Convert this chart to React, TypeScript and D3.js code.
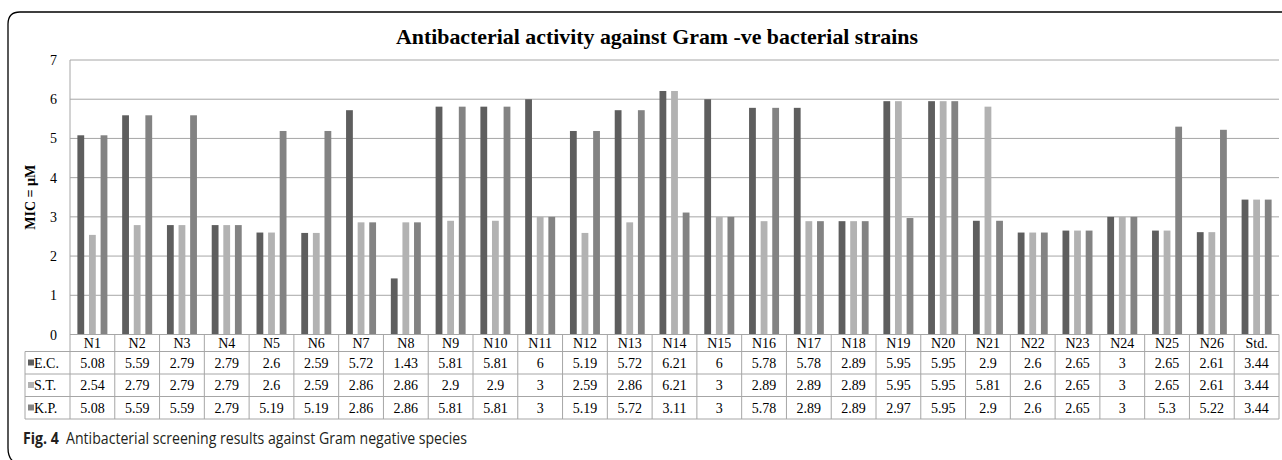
import React from 'react';
import * as d3 from 'd3';

const categories = ['N1', 'N2', 'N3', 'N4', 'N5', 'N6', 'N7', 'N8', 'N9', 'N10', 'N11', 'N12', 'N13', 'N14', 'N15', 'N16', 'N17', 'N18', 'N19', 'N20', 'N21', 'N22', 'N23', 'N24', 'N25', 'N26', 'Std.'];
const seriesNames = ['E.C.', 'S.T.', 'K.P.'];
const ecValues = [5.08, 5.59, 2.79, 2.79, 2.6, 2.59, 5.72, 1.43, 5.81, 5.81, 6, 5.19, 5.72, 6.21, 6, 5.78, 5.78, 2.89, 5.95, 5.95, 2.9, 2.6, 2.65, 3, 2.65, 2.61, 3.44];
const stValues = [2.54, 2.79, 2.79, 2.79, 2.6, 2.59, 2.86, 2.86, 2.9, 2.9, 3, 2.59, 2.86, 6.21, 3, 2.89, 2.89, 2.89, 5.95, 5.95, 5.81, 2.6, 2.65, 3, 2.65, 2.61, 3.44];
const kpValues = [5.08, 5.59, 5.59, 2.79, 5.19, 5.19, 2.86, 2.86, 5.81, 5.81, 3, 5.19, 5.72, 3.11, 3, 5.78, 2.89, 2.89, 2.97, 5.95, 2.9, 2.6, 2.65, 3, 5.3, 5.22, 3.44];
const yTicks = [0, 1, 2, 3, 4, 5, 6, 7];

const series = [ecValues, stValues, kpValues];
const colors = ['#5e5e5e', '#b2b2b2', '#838383'];

const W = 1282;
const H = 460;
const plotLeft = 70;
const plotRight = 1279;
const plotTop = 60;
const plotBottom = 334.5;
const legendLeft = 25;
const rowH = 22.5;
const headerH = 17;
const serif = '"Liberation Serif", "Times New Roman", serif';

const App = () => {
  const x = d3.scaleBand<string>().domain(categories).range([plotLeft, plotRight]).padding(0);
  const y = d3.scaleLinear().domain([0, 7]).range([plotBottom, plotTop]);
  const barW = 6.8;
  const step = 11.6;
  const grid = '#a6a6a6';

  const tableTop = plotBottom;
  const rowTop = (i: number) => tableTop + headerH + i * rowH;
  const tableBottom = rowTop(3);

  return (
    <div style={{ position: 'absolute', left: 0, top: 0 }}>
      <svg width={W} height={H} style={{ display: 'block', background: '#fff' }}>
        {/* frame */}
        <path d={`M ${W + 5} 12 H 20 Q 8 12 8 24 V 448 Q 8 458 14 462`} fill="none" stroke="#000" strokeWidth={1.3} />

        <text x={657} y={44} textAnchor="middle" fontFamily={serif} fontWeight="bold" fontSize={21} textLength={522} lengthAdjust="spacingAndGlyphs">
          Antibacterial activity against Gram -ve bacterial strains
        </text>

        {/* grid */}
        {yTicks.map((t) => (
          <g key={t}>
            {t > 0 && <line x1={plotLeft} x2={plotRight} y1={y(t)} y2={y(t)} stroke={grid} strokeWidth={1} />}
            <text x={57} y={y(t) + 5} textAnchor="end" fontFamily={serif} fontSize={14} fill="#000">{t}</text>
          </g>
        ))}
        <line x1={plotLeft} x2={plotLeft} y1={plotTop} y2={tableBottom} stroke={grid} />

        <text transform={`translate(35,${(plotTop + plotBottom) / 2}) rotate(-90)`} textAnchor="middle" fontFamily={serif} fontWeight="bold" fontSize={14}>
          MIC = µM
        </text>

        {/* bars */}
        {series.map((vals, si) => (
          <g key={si} fill={colors[si]}>
            {vals.map((v, ci) => {
              const cx = (x(categories[ci]) as number) + x.bandwidth() / 2 + (si - 1) * step;
              return <rect key={ci} x={cx - barW / 2} y={y(v)} width={barW} height={y(0) - y(v)} />;
            })}
          </g>
        ))}

        {/* table */}
        <g stroke={grid} strokeWidth={1} fill="none">
          <line x1={plotLeft} x2={plotRight} y1={tableTop} y2={tableTop} />
          {[0, 1, 2, 3].map((i) => (
            <line key={i} x1={legendLeft} x2={plotRight} y1={rowTop(i)} y2={rowTop(i)} />
          ))}
          <line x1={legendLeft} x2={legendLeft} y1={rowTop(0)} y2={tableBottom} />
          {categories.map((c) => (
            <line key={c} x1={(x(c) as number) + x.bandwidth()} x2={(x(c) as number) + x.bandwidth()} y1={tableTop} y2={tableBottom} />
          ))}
        </g>
        {categories.map((c) => (
          <text key={c} x={(x(c) as number) + x.bandwidth() / 2} y={tableTop + 13.5} textAnchor="middle" fontFamily={serif} fontSize={14}>{c}</text>
        ))}
        {series.map((vals, si) => (
          <g key={si}>
            <rect x={legendLeft + 3} y={rowTop(si) + 8} width={6} height={6} fill={colors[si]} />
            <text x={legendLeft + 9} y={rowTop(si) + 16} fontFamily={serif} fontSize={14}>{seriesNames[si]}</text>
            {vals.map((v, ci) => (
              <text key={ci} x={(x(categories[ci]) as number) + x.bandwidth() / 2} y={rowTop(si) + 16} textAnchor="middle" fontFamily={serif} fontSize={14}>{v}</text>
            ))}
          </g>
        ))}

        {/* caption */}
        <text x={23} y={443.5} fontFamily={'"Open Sans", "Noto Sans", sans-serif'} fontSize={15.5} fill="#231f20" textLength={444} lengthAdjust="spacingAndGlyphs">
          <tspan fontWeight="bold">Fig. 4</tspan>
          <tspan dx={8}>Antibacterial screening results against Gram negative species</tspan>
        </text>
      </svg>
    </div>
  );
};

export default App;
